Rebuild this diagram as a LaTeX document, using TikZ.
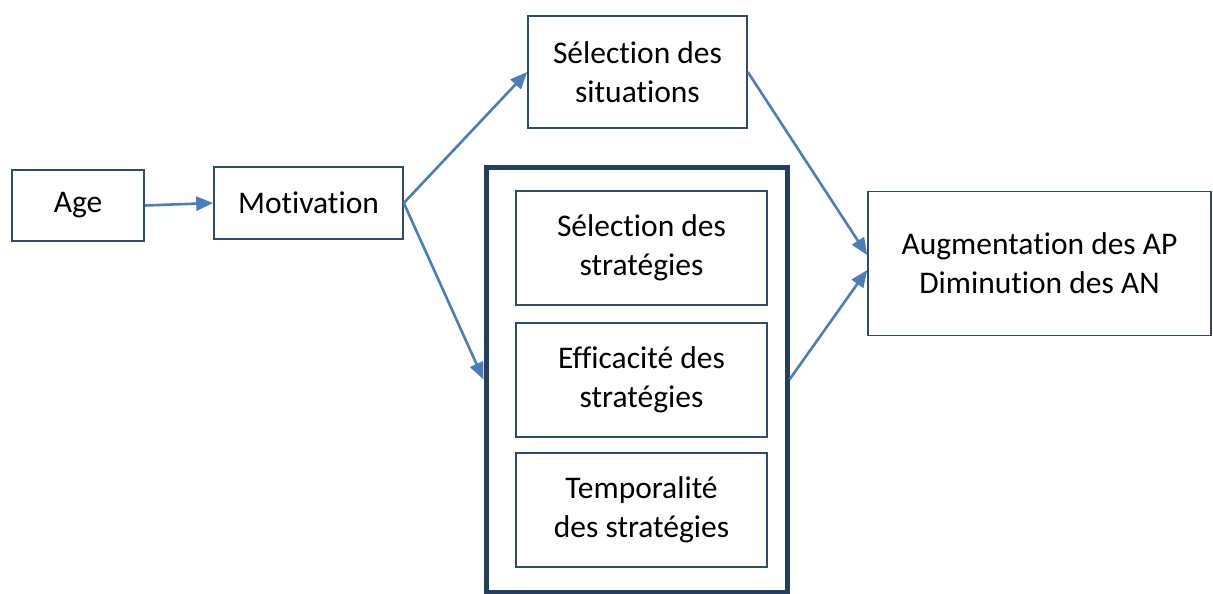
\documentclass[tikz,border=0pt]{standalone}
\usepackage{fontspec}
\setmainfont{Carlito}[Ligatures={NoCommon}]
\usetikzlibrary{arrows.meta}
\definecolor{boxc}{HTML}{2F4B6E}
\definecolor{bigc}{HTML}{243F60}
\definecolor{arrc}{HTML}{4A7EBB}
\tikzset{
  box/.style={draw=boxc, line width=1.6pt, align=center, inner sep=0pt,
    font=\fontsize{31.5}{39}\selectfont},
  bigbox/.style={draw=bigc, line width=5pt, inner sep=0pt},
  conn/.style={draw=arrc, line width=2.6pt, -{Triangle[length=17pt,width=14pt]}}
}
\begin{document}
\begin{tikzpicture}[x=1pt,y=-1pt]
\useasboundingbox (0,0) rectangle (1213,594);
\node[box, minimum width=132pt, minimum height=71pt] (age) at (78,205.5) {Age};
\node[box, minimum width=189pt, minimum height=72pt] (motiv) at (308.5,203) {Motivation};
\node[box, minimum width=219pt, minimum height=112pt] (sit) at (637.5,72) {Sélection des\\situations};
\node[bigbox, minimum width=301pt, minimum height=425pt] (big) at (636.5,379.5) {};
\node[box, minimum width=251pt, minimum height=114pt] (s1) at (641.5,248) {Sélection des\\stratégies};
\node[box, minimum width=251pt, minimum height=114pt] (s2) at (641.5,380) {Efficacité des\\stratégies};
\node[box, minimum width=251pt, minimum height=114pt] (s3) at (641.5,510) {Temporalité\\des stratégies};
\node[box, minimum width=343pt, minimum height=144pt] (aug) at (1039.5,263.5) {Augmentation des AP\\Diminution des AN};
\draw[conn] (age.east) -- (motiv.west);
\draw[conn] (motiv.east) -- (sit.west);
\draw[conn] (motiv.east) -- (big.west);
\draw[conn] (sit.east) -- ([yshift=8.5pt]aug.west);
\draw[conn] (big.east) -- ([yshift=-6.5pt]aug.west);
\end{tikzpicture}
\end{document}
